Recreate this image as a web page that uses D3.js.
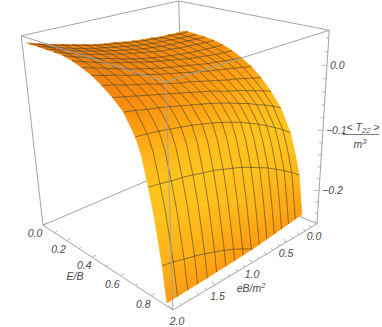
<!DOCTYPE html>
<html>
<head>
<meta charset="utf-8">
<style>
  html, body { margin: 0; padding: 0; background: #fff; }
  svg { display: block; }
  text { font-family: "Liberation Sans", Arial, sans-serif; font-style: italic; fill: #4a4a4a; font-size: 10.5px; }
</style>
<script src="https://cdnjs.cloudflare.com/ajax/libs/d3/7.8.5/d3.min.js"></script>
</head>
<body>
<script>
// values
var eRows = [0.04, 0.0625, 0.125, 0.1875, 0.25, 0.3125, 0.375, 0.4375, 0.5, 0.5625, 0.625, 0.6875, 0.75, 0.78, 0.8125, 0.84, 0.875, 0.905];
var ebCols = [0, 0.125, 0.25, 0.375, 0.5, 0.625, 0.75, 0.875, 1, 1.125, 1.25, 1.375, 1.5, 1.625, 1.75, 1.875, 2];
var zGrid = [
  [.001, .001, .002, .002, .004, .005, .007, .009, .012, .014, .017, .021, .025, .029, .033, .038, .043],
  [.001, .001, .002, .002, .004, .005, .007, .009, .012, .014, .017, .021, .025, .029, .033, .038, .043],
  [0, 0, .001, .002, .003, .004, .006, .008, .011, .014, .017, .020, .024, .028, .033, .038, .043],
  [-.001, -.001, 0, .001, .002, .003, .005, .007, .010, .013, .016, .020, .024, .028, .033, .038, .043],
  [-.003, -.003, -.002, -.001, 0, .002, .003, .006, .009, .012, .015, .019, .023, .027, .032, .037, .043],
  [-.007, -.007, -.006, -.005, -.004, -.002, 0, .002, .005, .008, .012, .016, .021, .025, .031, .036, .042],
  [-.013, -.012, -.011, -.009, -.007, -.005, -.002, .001, .004, .007, .011, .015, .019, .023, .028, .033, .039],
  [-.021, -.019, -.017, -.015, -.013, -.010, -.007, -.004, -.001, .002, .006, .010, .014, .019, .024, .029, .034],
  [-.031, -.028, -.025, -.022, -.019, -.016, -.012, -.009, -.005, -.002, .002, .006, .010, .014, .019, .023, .028],
  [-.045, -.041, -.037, -.033, -.030, -.026, -.022, -.018, -.014, -.011, -.007, -.003, .002, .006, .010, .015, .019],
  [-.063, -.057, -.052, -.047, -.042, -.038, -.033, -.028, -.024, -.020, -.016, -.012, -.008, -.004, 0, .004, .008],
  [-.085, -.077, -.070, -.064, -.057, -.052, -.046, -.041, -.036, -.032, -.028, -.024, -.020, -.016, -.013, -.009, -.006],
  [-.121, -.110, -.101, -.092, -.084, -.077, -.070, -.064, -.059, -.054, -.050, -.046, -.043, -.040, -.037, -.035, -.033],
  [-.150, -.138, -.128, -.118, -.110, -.102, -.094, -.088, -.082, -.077, -.072, -.068, -.065, -.062, -.059, -.056, -.054],
  [-.187, -.176, -.166, -.157, -.148, -.141, -.134, -.127, -.122, -.117, -.112, -.109, -.105, -.102, -.100, -.097, -.095],
  [-.254, -.240, -.226, -.214, -.204, -.194, -.184, -.176, -.169, -.163, -.157, -.152, -.147, -.144, -.140, -.136, -.134],
  [-.350, -.332, -.316, -.301, -.287, -.275, -.263, -.253, -.244, -.236, -.229, -.223, -.217, -.212, -.208, -.203, -.200],
  [-.470, -.447, -.426, -.407, -.390, -.375, -.360, -.347, -.335, -.326, -.316, -.309, -.301, -.295, -.290, -.284, -.280]
];
var meshE = [0.0625, 0.125, 0.1875, 0.25, 0.3125, 0.375, 0.4375, 0.5, 0.5625, 0.625, 0.6875, 0.75, 0.8125, 0.875];
var meshEB = ebCols.slice(1, -1);

var eTicks = [0, 0.2, 0.4, 0.6, 0.8];
var eMinor = [0.1, 0.3, 0.5, 0.7, 0.9];
var ebTicks = [0, 0.5, 1, 1.5, 2];
var ebMinor = [0.1, 0.2, 0.3, 0.4, 0.6, 0.7, 0.8, 0.9, 1.1, 1.2, 1.3, 1.4, 1.6, 1.7, 1.8, 1.9];
var zTicks = [0, -0.1, -0.2];
var zMinor = [0.04, 0.02, -0.02, -0.04, -0.06, -0.08, -0.12, -0.14, -0.16, -0.18, -0.22, -0.24];

var eDomain = [0, 0.93];
var ebDomain = [0, 2];
var zDomain = [-0.259, 0.051];
var zClip = -0.254;

var shadeZ = [0.045, 0.015, -0.01, -0.035, -0.065, -0.105, -0.17, -0.22, -0.26];
var shadeColors = ["#ec7f10", "#f3860f", "#f9920f", "#ffa412", "#ffba1a", "#ffc61f", "#ffbc1a", "#ffaa15", "#ff9810"];

var width = 382, height = 327;

var svg = d3.select("body").append("svg").attr("width", width).attr("height", height);
var defs = svg.append("defs");

var eScale = d3.scaleLinear().domain(eDomain).range([0, 1]);
var ebScale = d3.scaleLinear().domain(ebDomain).range([0, 1]);
var zScale = d3.scaleLinear().domain(zDomain).range([0, 1]);
var shade = d3.scaleLinear().domain(shadeZ).range(shadeColors);

// box corners on screen, used to fit the camera: [u, v, w, px, py]
var corners = [
  [0, 1, 1, 21, 36], [0, 1, 0, 43, 225], [1, 1, 1, 166, 82], [1, 1, 0, 173, 310],
  [1, 0, 1, 329, 30], [1, 0, 0, 317, 224], [0, 0, 1, 179, 1]
];
var P = fitCamera(corners);

function fitCamera(pts) {
  // least squares for the 3x4 matrix with last entry 1
  var A = [], b = [];
  pts.forEach(function(p) {
    var u = p[0], v = p[1], w = p[2], x = p[3], y = p[4];
    A.push([u, v, w, 1, 0, 0, 0, 0, -x * u, -x * v, -x * w]); b.push(x);
    A.push([0, 0, 0, 0, u, v, w, 1, -y * u, -y * v, -y * w]); b.push(y);
  });
  var n = 11, M = [];
  for (var i = 0; i < n; i++) {
    M.push([]);
    for (var j = 0; j < n; j++) M[i].push(d3.sum(A, function(r) { return r[i] * r[j]; }));
    M[i].push(d3.sum(A, function(r, k) { return r[i] * b[k]; }));
  }
  for (var c = 0; c < n; c++) {
    var best = c;
    for (var r = c + 1; r < n; r++) if (Math.abs(M[r][c]) > Math.abs(M[best][c])) best = r;
    var t = M[c]; M[c] = M[best]; M[best] = t;
    for (var r2 = 0; r2 < n; r2++) {
      if (r2 == c) continue;
      var f = M[r2][c] / M[c][c];
      for (var k = c; k <= n; k++) M[r2][k] -= f * M[c][k];
    }
  }
  return d3.range(n).map(function(i) { return M[i][n] / M[i][i]; });
}

function project(e, eb, z) {
  var u = eScale(e), v = ebScale(eb), w = zScale(z);
  var d = P[8] * u + P[9] * v + P[10] * w + 1;
  return [(P[0] * u + P[1] * v + P[2] * w + P[3]) / d, (P[4] * u + P[5] * v + P[6] * w + P[7]) / d];
}

var line = d3.line();

function boxLine(g, a, b) {
  g.append("path")
    .attr("d", line([project(a[0], a[1], a[2]), project(b[0], b[1], b[2])]))
    .attr("fill", "none").attr("stroke", "#a3a3a3").attr("stroke-width", 1);
}

var e0 = eDomain[0], e1 = eDomain[1], b0 = ebDomain[0], b1 = ebDomain[1], z0 = zDomain[0], z1 = zDomain[1];

// back edges go under the surface
var back = svg.append("g");
boxLine(back, [e0, b0, z0], [e0, b0, z1]);
boxLine(back, [e0, b0, z0], [e0, b1, z0]);
boxLine(back, [e0, b0, z0], [e1, b0, z0]);
boxLine(back, [e0, b0, z1], [e0, b1, z1]);
boxLine(back, [e0, b0, z1], [e1, b0, z1]);

// clip a polygon of [e, eb, z] points at the lower plot range
function clipPoly(pts) {
  var out = [];
  pts.forEach(function(p, i) {
    var q = pts[(i + 1) % pts.length];
    var pIn = p[2] >= zClip, qIn = q[2] >= zClip;
    if (pIn) out.push(p);
    if (pIn != qIn) {
      var t = (zClip - p[2]) / (q[2] - p[2]);
      out.push([p[0] + t * (q[0] - p[0]), p[1] + t * (q[1] - p[1]), zClip]);
    }
  });
  return out;
}

var surface = svg.append("g");
var cellId = 0;
for (var i = 0; i < eRows.length - 1; i++) {
  for (var j = 0; j < ebCols.length - 1; j++) {
    var poly = clipPoly([
      [eRows[i], ebCols[j], zGrid[i][j]],
      [eRows[i], ebCols[j + 1], zGrid[i][j + 1]],
      [eRows[i + 1], ebCols[j + 1], zGrid[i + 1][j + 1]],
      [eRows[i + 1], ebCols[j], zGrid[i + 1][j]]
    ]);
    if (poly.length < 3) continue;
    var zTop = d3.max(poly, function(p) { return p[2]; });
    var zBot = d3.min(poly, function(p) { return p[2]; });
    var screen = poly.map(function(p) { return project(p[0], p[1], p[2]); });
    var yTop = d3.min(screen, function(p) { return p[1]; });
    var yBot = d3.max(screen, function(p) { return p[1]; });
    var id = "cell-" + (cellId++);
    var grad = defs.append("linearGradient").attr("id", id)
      .attr("gradientUnits", "userSpaceOnUse")
      .attr("x1", 0).attr("x2", 0).attr("y1", yTop).attr("y2", yBot);
    grad.append("stop").attr("offset", 0).attr("stop-color", shade(zTop));
    grad.append("stop").attr("offset", 1).attr("stop-color", shade(zBot));
    surface.append("path")
      .attr("d", line(screen) + "Z")
      .attr("fill", "url(#" + id + ")")
      .attr("stroke", "url(#" + id + ")")
      .attr("stroke-width", 0.6);
  }
}

function meshSegments(points) {
  var segs = [];
  points.forEach(function(p, i) {
    if (i == 0) return;
    if (points[i - 1][2] < zClip && p[2] < zClip) return;
    var c = clipPoly([points[i - 1], p]);
    var a = points[i - 1][2] >= zClip ? points[i - 1] : c[0];
    var b = p[2] >= zClip ? p : c[c.length - 1];
    segs.push(line([project(a[0], a[1], a[2]), project(b[0], b[1], b[2])]));
  });
  return segs.join("");
}

var mesh = svg.append("g").attr("fill", "none").attr("stroke", "#4a3f24").attr("stroke-opacity", 0.78).attr("stroke-width", 0.8);
meshE.forEach(function(e) {
  var i = eRows.indexOf(e);
  mesh.append("path").attr("d", meshSegments(ebCols.map(function(b, j) { return [e, b, zGrid[i][j]]; })));
});
meshEB.forEach(function(b) {
  var j = ebCols.indexOf(b);
  mesh.append("path").attr("d", meshSegments(eRows.map(function(e, i) { return [e, b, zGrid[i][j]]; })));
});

// near edges are drawn over the surface
var front = svg.append("g");
boxLine(front, [e1, b1, z0], [e1, b1, z1]);
boxLine(front, [e0, b1, z1], [e1, b1, z1]);
boxLine(front, [e1, b0, z1], [e1, b1, z1]);
boxLine(front, [e0, b1, z0], [e0, b1, z1]);
boxLine(front, [e1, b0, z0], [e1, b0, z1]);
boxLine(front, [e0, b1, z0], [e1, b1, z0]);
boxLine(front, [e1, b0, z0], [e1, b1, z0]);

function tick(p, dx, dy) {
  svg.append("line").attr("x1", p[0]).attr("y1", p[1]).attr("x2", p[0] + dx).attr("y2", p[1] + dy)
    .attr("stroke", "#a3a3a3").attr("stroke-width", 0.8);
}

eTicks.forEach(function(e) {
  var p = project(e, b1, z0);
  tick(p, 4, -2.4);
  svg.append("text").attr("x", p[0] - 8).attr("y", p[1] + 12).attr("text-anchor", "middle").text(e.toFixed(1));
});
eMinor.forEach(function(e) { tick(project(e, b1, z0), 2.5, -1.5); });

ebTicks.forEach(function(b) {
  var p = project(e1, b, z0);
  tick(p, -2.5, -3.5);
  var dx = b == 0 ? -3 : b == 2 ? 4 : b == 1.5 ? 3 : 0;
  svg.append("text").attr("x", p[0] + dx).attr("y", p[1] + (b == 0 ? 16 : 15)).attr("text-anchor", "middle").text(b.toFixed(1));
});
ebMinor.forEach(function(b) { tick(project(e1, b, z0), -1.5, -2.2); });

zTicks.forEach(function(z) {
  var p = project(e1, b0, z);
  tick(p, -5, 0);
  svg.append("text").attr("x", p[0] + 3).attr("y", p[1] + 4).text(z == 0 ? "0.0" : "\u2212" + Math.abs(z).toFixed(1));
});
zMinor.forEach(function(z) { tick(project(e1, b0, z), -3, 0); });

// axis titles
svg.append("text").attr("x", 75).attr("y", 280).attr("text-anchor", "middle").text("E/B");

var ebTitle = svg.append("text").attr("x", 251).attr("y", 292).attr("text-anchor", "middle");
ebTitle.append("tspan").text("eB/m");
ebTitle.append("tspan").attr("dy", -4).attr("font-size", 7.5).text("2");

var zTitle = svg.append("text").attr("x", 363).attr("y", 131).attr("text-anchor", "middle");
zTitle.append("tspan").text("< T");
zTitle.append("tspan").attr("dy", 2).attr("font-size", 7.5).text("22");
zTitle.append("tspan").attr("dy", -2).text(" >");
svg.append("line").attr("x1", 343).attr("x2", 379).attr("y1", 134.5).attr("y2", 134.5).attr("stroke", "#7a7a7a").attr("stroke-width", 1);
var zUnder = svg.append("text").attr("x", 360).attr("y", 148).attr("text-anchor", "middle");
zUnder.append("tspan").text("m");
zUnder.append("tspan").attr("dy", -4).attr("font-size", 7.5).text("3");
</script>
</body>
</html>
